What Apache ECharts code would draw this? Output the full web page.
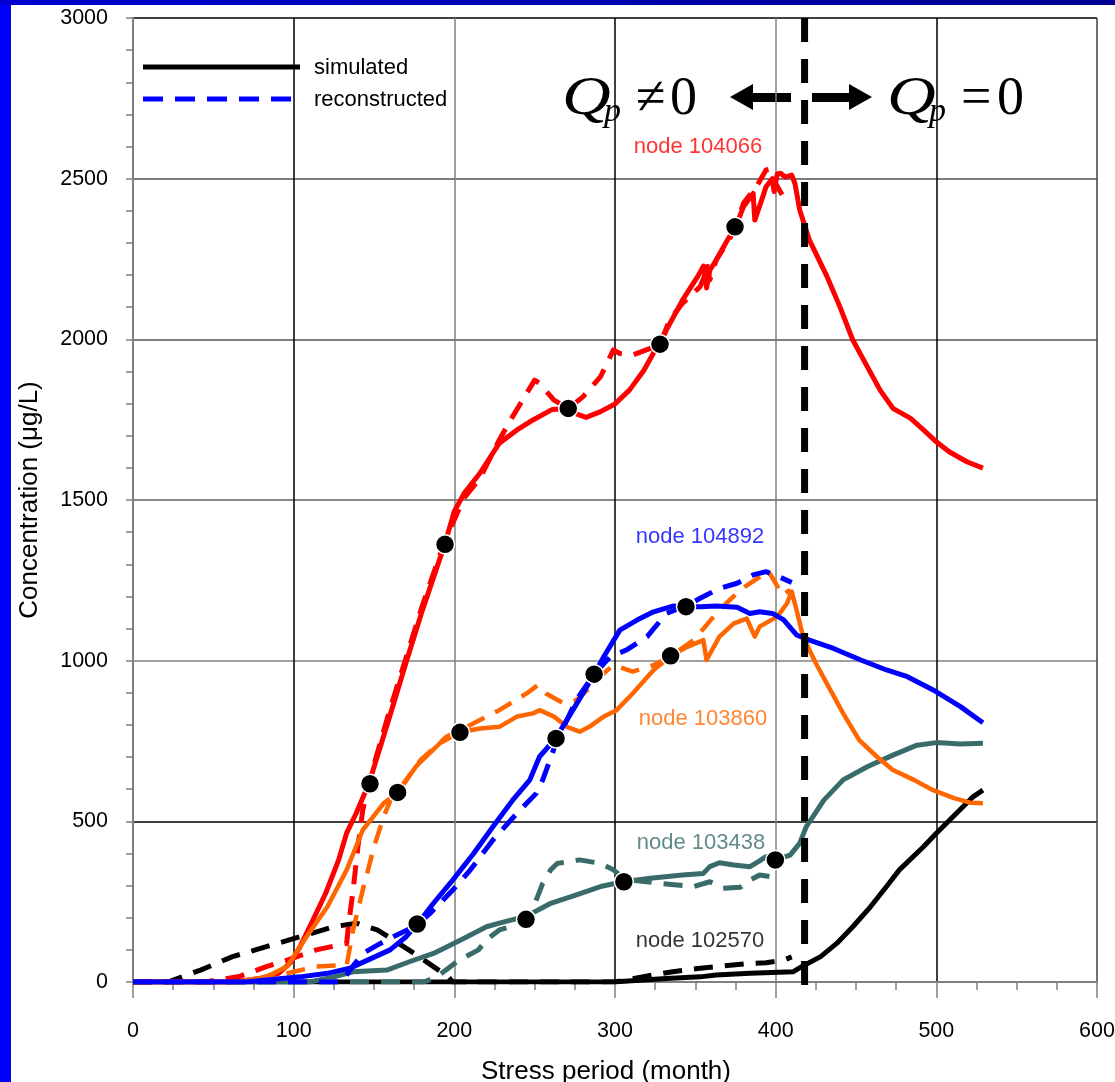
<!DOCTYPE html>
<html><head><meta charset="utf-8">
<script src="https://cdn.jsdelivr.net/npm/echarts@6/dist/echarts.min.js"></script>
<style>
html,body{margin:0;padding:0;background:#fff;}
#wrap{position:relative;width:1115px;height:1082px;overflow:hidden;background:#fff}
#chart{position:absolute;left:0;top:0;width:1115px;height:1082px}
#leftbar{position:absolute;left:0;top:0;width:11px;height:1082px;background:#0000ff}
#topbar{position:absolute;left:0;top:0;width:1115px;height:5px;background:linear-gradient(to right,#0000d0,#000090)}
</style></head>
<body>
<div id="wrap"><div id="chart"></div><div id="leftbar"></div><div id="topbar"></div></div>
<script>
// ---------- data ----------
const xTicks = [0, 100, 200, 300, 400, 500, 600];
const yTicks = [0, 500, 1000, 1500, 2000, 2500, 3000];

const redSim = [[0,0],[60,0],[70,5],[80,12],[91,28],[98,60],[104,110],[112,193],[120,277],[128,380],[133,464],[139,526],[147,620],[160,830],[170,995],[180,1155],[194,1362],[200,1465],[206,1520],[216,1584],[228,1677],[239,1718],[249,1749],[261,1782],[271,1785],[276,1768],[282,1757],[291,1775],[300,1799],[309,1842],[318,1904],[325,1967],[328,1985],[332,2029],[342,2122],[352,2200],[355,2228],[357,2160],[359,2215],[363,2247],[370,2309],[375,2350],[380,2413],[386,2454],[387,2371],[392,2444],[394,2475],[398,2500],[399,2460],[401,2515],[403,2517],[406,2505],[410,2511],[412,2485],[415,2402],[421,2309],[432,2195],[440,2101],[448,1998],[457,1915],[465,1842],[473,1785],[484,1754],[492,1718],[500,1681],[508,1650],[519,1619],[529,1599]];
const redRec = [[0,0],[45,0],[52,6],[66,17],[83,48],[96,68],[114,100],[133,120],[134,172],[137,286],[140,421],[143,535],[147,625],[160,850],[170,1010],[180,1170],[194,1372],[206,1506],[216,1568],[228,1687],[235,1749],[245,1832],[250,1873],[253,1863],[262,1811],[271,1785],[280,1821],[291,1884],[299,1967],[303,1956],[311,1951],[322,1972],[328,1985],[334,2060],[342,2112],[353,2164],[356,2200],[357,2235],[359,2185],[363,2247],[372,2319],[375,2350],[380,2424],[388,2475],[394,2527],[397,2530],[400,2485],[404,2450]];

const blueSim = [[0,0],[70,0],[83,6],[104,16],[121,27],[135,43],[146,68],[160,100],[170,141],[177,180],[187,245],[199,317],[212,400],[224,483],[237,570],[247,629],[253,701],[263,758],[270,815],[280,898],[287,958],[293,1012],[303,1095],[314,1127],[324,1152],[336,1170],[344,1168],[353,1168],[363,1170],[376,1166],[384,1147],[390,1152],[398,1147],[405,1127],[413,1080],[421,1064],[436,1038],[453,1002],[469,971],[482,950],[498,909],[515,857],[529,807]];
const blueRec = [[0,0],[130,0],[135,37],[143,89],[154,120],[162,141],[170,160],[177,180],[185,214],[199,286],[210,349],[224,442],[239,525],[251,587],[255,629],[258,670],[263,740],[268,794],[276,878],[287,958],[297,1012],[307,1033],[320,1075],[332,1147],[344,1170],[353,1194],[365,1225],[376,1241],[386,1267],[394,1277],[403,1259],[410,1243]];

const orangeSim = [[0,0],[65,0],[71,6],[83,16],[96,48],[108,141],[121,234],[133,349],[143,473],[156,556],[165,590],[176,670],[191,743],[203,777],[216,789],[228,794],[239,826],[249,836],[253,846],[262,826],[270,794],[278,779],[284,794],[293,826],[301,846],[311,898],[324,971],[335,1015],[345,1043],[355,1064],[357,1002],[365,1075],[374,1116],[382,1131],[387,1075],[390,1106],[401,1137],[407,1178],[410,1215],[413,1158],[417,1075],[425,992],[434,909],[442,836],[452,753],[463,701],[473,660],[486,629],[498,597],[511,572],[521,558],[529,556]];
const orangeRec = [[0,0],[80,0],[87,16],[100,32],[114,48],[133,53],[137,162],[143,286],[150,421],[156,514],[162,587],[165,595],[179,691],[195,763],[212,805],[228,846],[245,898],[252,924],[257,898],[268,867],[276,877],[286,924],[293,961],[299,986],[311,966],[324,986],[335,1015],[349,1064],[365,1158],[378,1220],[390,1261],[395,1282],[400,1241],[404,1204],[409,1220]];

const tealSim = [[0,0],[110,0],[125,16],[137,32],[158,37],[172,63],[187,89],[204,131],[220,172],[228,183],[245,205],[260,245],[276,271],[291,297],[305,312],[322,323],[342,333],[355,338],[359,359],[365,371],[374,364],[384,359],[389,374],[394,390],[400,380],[409,395],[415,432],[419,483],[430,566],[442,629],[457,670],[473,706],[488,737],[500,745],[515,741],[529,743]];
const tealRec = [[0,0],[181,0],[189,16],[203,68],[215,100],[220,131],[228,162],[235,172],[245,195],[249,230],[255,307],[260,349],[264,369],[278,380],[291,369],[299,349],[305,325],[311,317],[328,307],[349,297],[359,312],[367,292],[378,295],[384,317],[390,333],[403,323]];

const blackSim = [[0,0],[290,0],[301,1],[332,11],[353,16],[363,22],[384,27],[411,32],[417,50],[428,79],[438,120],[448,172],[459,234],[469,297],[477,349],[492,421],[500,463],[523,577],[529,597]];
const blackRec = [[0,0],[22,0],[25,6],[42,37],[62,79],[83,110],[104,141],[125,172],[139,183],[152,162],[162,131],[175,89],[187,48],[196,17],[199,0],[300,0],[324,22],[336,32],[353,43],[370,51],[384,58],[394,60],[405,68],[410,78]];

const matchPoints = [[147.5,617],[164.7,590],[176.9,180.5],[194.2,1362],[203.5,777],[244.6,195],[263.3,758],[270.9,1785],[287,958],[305.5,312],[328,1985],[334.6,1015],[344.2,1168],[374.7,2350],[399.8,380]];

const pumpStopLine = [[418, 3000], [418, -58]];

const nodeLabels = [
  ['node 104066', 351.6, 2598],
  ['node 104892', 352.9, 1385],
  ['node 103860', 354.8, 818],
  ['node 103438', 353.5, 433],
  ['node 102570', 352.9, 128]
];
const legendLabels = ['simulated', 'reconstructed'];
// ---------- styles ----------
const RED = '#ff0000', BLUE = '#0000ff', ORANGE = '#ff6600', TEAL = '#3a6b6b', BLACK = '#000000';
const labelColors = [RED, BLUE, ORANGE, TEAL, BLACK];
const DASH = [19, 12];
const FONT = '"Liberation Sans", Arial, sans-serif';
const SERIF = '"Liberation Serif", "Times New Roman", serif';

function curve(name, data, color, dashed, width) {
  return {
    name: name, type: 'line', data: data, symbol: 'none', smooth: false,
    lineStyle: { color: color, width: width || 5, type: dashed ? DASH : 'solid', cap: 'butt', join: 'round' },
    itemStyle: { color: color }, z: 3
  };
}

const chart = echarts.init(document.getElementById('chart'), null, { renderer: 'canvas' });
const option = {
  animation: false,
  backgroundColor: 'transparent',
  grid: { left: 133, right: 18, top: 18, bottom: 100, containLabel: false, outerBoundsMode: 'none' },
  xAxis: {
    type: 'value', min: xTicks[0], max: xTicks[xTicks.length - 1], interval: xTicks[1] - xTicks[0],
    name: 'Stress period (month)', nameLocation: 'middle', nameGap: 77,
    nameTextStyle: { fontFamily: FONT, fontSize: 26, color: '#000', padding: [0, 18, 0, 0] },
    axisLine: { show: true, onZero: false, lineStyle: { color: '#808080', width: 2 } },
    axisTick: { show: true, length: 16, lineStyle: { color: '#808080', width: 1.5 } },
    minorTick: { show: true, splitNumber: 4, length: 8, lineStyle: { color: '#808080', width: 1.5 } },
    axisLabel: { fontFamily: FONT, fontSize: 21.5, color: '#000', margin: 38, formatter: v => String(v) },
    splitLine: { show: true, lineStyle: { color: ['#808080', '#000', '#808080', '#000', '#808080', '#000', '#404040'], width: 1.5 } }
  },
  yAxis: {
    type: 'value', min: yTicks[0], max: yTicks[yTicks.length - 1], interval: yTicks[1] - yTicks[0],
    name: 'Concentration (\u03bcg/L)', nameLocation: 'middle', nameGap: 90,
    nameTextStyle: { fontFamily: FONT, fontSize: 26, color: '#000' },
    axisLine: { show: true, lineStyle: { color: '#808080', width: 2 } },
    axisTick: { show: true, length: 7, lineStyle: { color: '#808080', width: 1.5 } },
    minorTick: { show: true, splitNumber: 5, length: 7, lineStyle: { color: '#808080', width: 1.5 } },
    axisLabel: { fontFamily: FONT, fontSize: 21.5, color: '#000', margin: 25, formatter: v => String(v) },
    splitLine: { show: true, lineStyle: { color: ['#808080', '#000', '#808080', '#606060', '#505050', '#505050', '#000'], width: 1.5 } }
  },
  series: [
    curve('102570 rec', blackRec, BLACK, true),
    curve('102570 sim', blackSim, BLACK, false),
    curve('103438 sim', tealSim, TEAL, false),
    curve('103438 rec', tealRec, TEAL, true),
    curve('104066 sim', redSim, RED, false),
    curve('104066 rec', redRec, RED, true),
    curve('103860 sim', orangeSim, ORANGE, false, 4.5),
    curve('103860 rec', orangeRec, ORANGE, true, 4.5),
    curve('104892 sim', blueSim, BLUE, false),
    curve('104892 rec', blueRec, BLUE, true),
    {
      name: 'pump stop', type: 'line', data: pumpStopLine, symbol: 'none', clip: false,
      lineStyle: { color: BLACK, width: 7, type: [24, 17], cap: 'butt' }, z: 5
    },
    {
      name: 'match points', type: 'scatter', data: matchPoints, symbol: 'circle', symbolSize: 19,
      itemStyle: { color: BLACK, borderColor: '#fff', borderWidth: 1.5, opacity: 1 }, z: 10
    },
    {
      name: 'node labels', type: 'scatter', symbol: 'circle', symbolSize: 1,
      itemStyle: { color: 'transparent' }, z: 11,
      data: nodeLabels.map((n, i) => ({
        name: n[0], value: [n[1], n[2]],
        label: { show: true, position: 'inside', formatter: '{b}', color: labelColors[i], fontFamily: FONT, fontSize: 22 }
      }))
    }
  ],
  graphic: [
    // legend
    { type: 'line', shape: { x1: 143, y1: 67, x2: 300, y2: 67 }, style: { stroke: BLACK, lineWidth: 5 } },
    { type: 'line', shape: { x1: 143, y1: 99, x2: 292, y2: 99 }, style: { stroke: BLUE, lineWidth: 5, lineDash: [20, 12] } },
    { type: 'text', x: 314, y: 68, style: { text: legendLabels[0], font: '22px ' + FONT, fill: '#000', verticalAlign: 'middle' } },
    { type: 'text', x: 314, y: 100, style: { text: legendLabels[1], font: '22px ' + FONT, fill: '#000', verticalAlign: 'middle' } },
    // Q annotation
    { type: 'text', x: 562, y: 73, style: { text: 'Q', font: 'italic 54px ' + SERIF, fill: '#000', verticalAlign: 'top' }, scaleX: 1.25 },
    { type: 'text', x: 604, y: 95, style: { text: 'p', font: 'italic 34px ' + SERIF, fill: '#000', verticalAlign: 'top' } },
    { type: 'text', x: 636, y: 73, style: { text: '\u2260', font: '54px ' + SERIF, fill: '#000', verticalAlign: 'top' } },
    { type: 'text', x: 670, y: 73, style: { text: '0', font: '54px ' + SERIF, fill: '#000', verticalAlign: 'top' } },
    { type: 'polygon', shape: { points: [[730,97],[753,84],[753,93],[791,93],[791,102],[753,102],[753,110]] }, style: { fill: '#000' } },
    { type: 'polygon', shape: { points: [[872,97],[849,84],[849,93],[812,93],[812,102],[849,102],[849,110]] }, style: { fill: '#000' } },
    { type: 'text', x: 887, y: 73, style: { text: 'Q', font: 'italic 54px ' + SERIF, fill: '#000', verticalAlign: 'top' }, scaleX: 1.25 },
    { type: 'text', x: 929, y: 95, style: { text: 'p', font: 'italic 34px ' + SERIF, fill: '#000', verticalAlign: 'top' } },
    { type: 'text', x: 961, y: 73, style: { text: '=', font: '54px ' + SERIF, fill: '#000', verticalAlign: 'top' } },
    { type: 'text', x: 997, y: 73, style: { text: '0', font: '54px ' + SERIF, fill: '#000', verticalAlign: 'top' } }
  ]
};
chart.setOption(option);
</script>
</body></html>
